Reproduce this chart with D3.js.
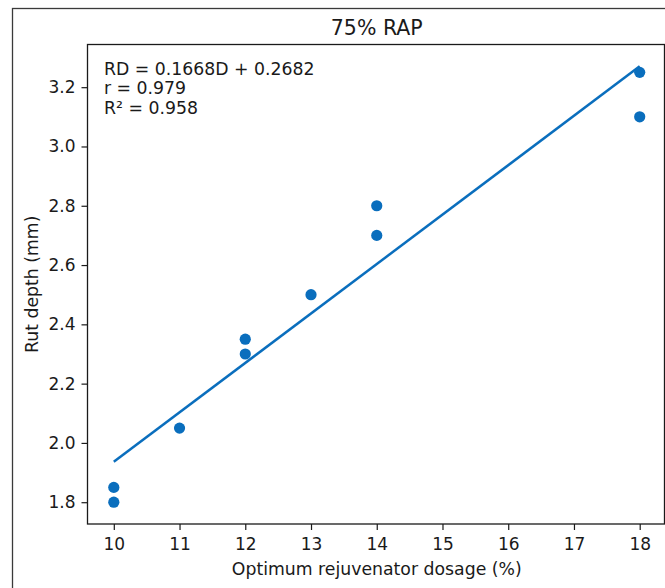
<!DOCTYPE html>
<html>
<head>
<meta charset="utf-8">
<script src="https://cdn.jsdelivr.net/npm/d3@7"></script>
<style>
  html, body { margin: 0; padding: 0; background: #fff; }
  svg { display: block; font-family: "DejaVu Sans", sans-serif; }
</style>
</head>
<body>
<svg id="chart" width="665" height="588"></svg>
<script>
// Rut depth versus optimum rejuvenator dosage, 75% RAP mixes
const dosage   = [10, 10, 11, 12, 12, 13, 14, 14, 18, 18];
const rutDepth = [1.85, 1.80, 2.05, 2.35, 2.30, 2.50, 2.80, 2.70, 3.25, 3.10];

// Linear fit RD = slope * D + intercept
const fitSlope = 0.1668;
const fitIntercept = 0.2682;
const fitRange = [10, 18];
const fitStats = ["RD = 0.1668D + 0.2682", "r = 0.979", "R\u00b2 = 0.958"];

const xTicks = [10, 11, 12, 13, 14, 15, 16, 17, 18];
const yTicks = [1.8, 2.0, 2.2, 2.4, 2.6, 2.8, 3.0, 3.2];

const titleText = "75% RAP";
const xLabel = "Optimum rejuvenator dosage (%)";
const yLabel = "Rut depth (mm)";

const blue = "#0a6ebd";
const ink = "#1a1a1a";

const svg = d3.select("#chart");

const plot = { left: 87.5, top: 44.5, right: 664.5, bottom: 524 };

const x = d3.scaleLinear().domain([9.6, 18.4]).range([plot.left, 666]);
const y = d3.scaleLinear().domain([1.7265, 3.344]).range([plot.bottom, plot.top]);

// outer figure frame
svg.append("rect")
  .attr("x", 12.5).attr("y", 8.5)
  .attr("width", 700).attr("height", 640)
  .attr("fill", "none").attr("stroke", "#3a3a3a").attr("stroke-width", 1.3);

// fit line
const fitLine = d3.line().x(d => x(d)).y(d => y(fitSlope * d + fitIntercept));
svg.append("path")
  .datum(fitRange)
  .attr("d", fitLine)
  .attr("fill", "none")
  .attr("stroke", blue)
  .attr("stroke-width", 2.5);

// observations
svg.append("g").selectAll("circle")
  .data(dosage.map((d, i) => [d, rutDepth[i]]))
  .join("circle")
  .attr("cx", d => x(d[0]))
  .attr("cy", d => y(d[1]))
  .attr("r", 5.6)
  .attr("fill", blue);

// axes
const xAxis = svg.append("g")
  .attr("transform", `translate(0,${plot.bottom})`)
  .call(d3.axisBottom(x).tickValues(xTicks).tickFormat(d3.format("d")).tickSize(6).tickPadding(7));
const yAxis = svg.append("g")
  .attr("transform", `translate(${plot.left},0)`)
  .call(d3.axisLeft(y).tickValues(yTicks).tickFormat(d3.format(".1f")).tickSize(6).tickPadding(6));

[xAxis, yAxis].forEach(g => {
  g.select(".domain").remove();
  g.selectAll(".tick line").attr("stroke", ink).attr("stroke-width", 1.2);
  g.selectAll(".tick text")
    .attr("fill", ink)
    .style("font-family", "DejaVu Sans, sans-serif")
    .style("font-size", "17px");
});
xAxis.selectAll(".tick text").attr("dy", "0.76em");

// plot frame
svg.append("rect")
  .attr("x", plot.left).attr("y", plot.top)
  .attr("width", plot.right - plot.left).attr("height", plot.bottom - plot.top)
  .attr("fill", "none").attr("stroke", ink).attr("stroke-width", 1.3);

// title
svg.append("text")
  .attr("x", (plot.left + 666) / 2).attr("y", 35)
  .attr("text-anchor", "middle")
  .attr("fill", ink)
  .style("font-size", "20.5px")
  .text(titleText);

// axis labels
svg.append("text")
  .attr("x", (plot.left + 666) / 2).attr("y", 575)
  .attr("text-anchor", "middle")
  .attr("fill", ink)
  .style("font-size", "17.3px")
  .text(xLabel);

svg.append("text")
  .attr("transform", `translate(38,${(plot.top + plot.bottom) / 2}) rotate(-90)`)
  .attr("text-anchor", "middle")
  .attr("fill", ink)
  .style("font-size", "17.3px")
  .text(yLabel);

// fit statistics
svg.append("g").selectAll("text")
  .data(fitStats)
  .join("text")
  .attr("x", 104)
  .attr("y", (d, i) => 74.5 + i * 19.5)
  .attr("fill", ink)
  .style("font-size", "17.3px")
  .text(d => d);
</script>
</body>
</html>
